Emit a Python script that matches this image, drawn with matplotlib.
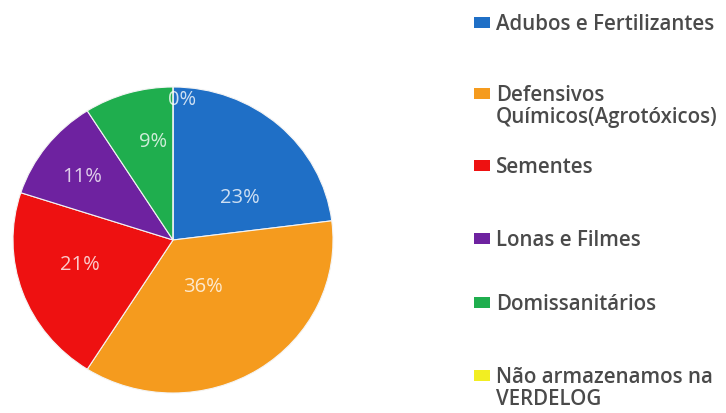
import matplotlib.pyplot as plt
from matplotlib.patches import Rectangle

plt.rcParams['font.family'] = ['Open Sans', 'DejaVu Sans']

categories = ['Adubos e Fertilizantes',
              'Defensivos\nQuímicos(Agrotóxicos)',
              'Sementes',
              'Lonas e Filmes',
              'Domissanitários',
              'Não armazenamos na\nVERDELOG']
shares = [23, 36, 21, 11, 9, 0]
colors = ['#1f6fc6', '#f59b1e', '#ee1111', '#6e22a0', '#1fae4e', '#f2ee22']

# where each percent label sits inside the pie (axes data units)
label_xy = [(0.42, 0.28), (0.19, -0.30), (-0.58, -0.16),
            (-0.57, 0.42), (-0.125, 0.65), (0.056, 0.92)]
# baseline of the first line of each legend entry, in pixels from the top
legend_y = [30, 101, 173, 246, 310, 383]
line_gap = 22

W, H = 726, 414
fig = plt.figure(figsize=(W / 100, H / 100), dpi=100)

cx, cy, rx, ry = 173, 241, 160, 153
ax = fig.add_axes([(cx - rx) / W, (H - cy - ry) / H, 2 * rx / W, 2 * ry / H])
wedges, texts = ax.pie(shares, colors=colors, startangle=90, counterclock=False,
                       wedgeprops=dict(edgecolor='#f4f4f4', linewidth=0.8))
ax.set_aspect('auto')
ax.set_xlim(-1, 1)
ax.set_ylim(-1, 1)

for (x, y), v in zip(label_xy, shares):
    ax.text(x, y, f'{v}%', ha='center', va='center',
            fontsize=14.5, color='white', alpha=0.78)

# legend drawn as boxes and text at the right side
for lab, col, yb in zip(categories, colors, legend_y):
    fig.patches.append(Rectangle((474 / W, (H - yb + 1) / H), 16 / W, 11 / H,
                                 transform=fig.transFigure, facecolor=col,
                                 edgecolor='none'))
    for i, line in enumerate(lab.split('\n')):
        fig.text(496 / W, (H - yb - i * line_gap) / H, line, ha='left',
                 va='baseline', fontsize=14.8, fontweight='semibold',
                 color='#4a4a4a')

fig.savefig('out.png', dpi=100, facecolor='white')
